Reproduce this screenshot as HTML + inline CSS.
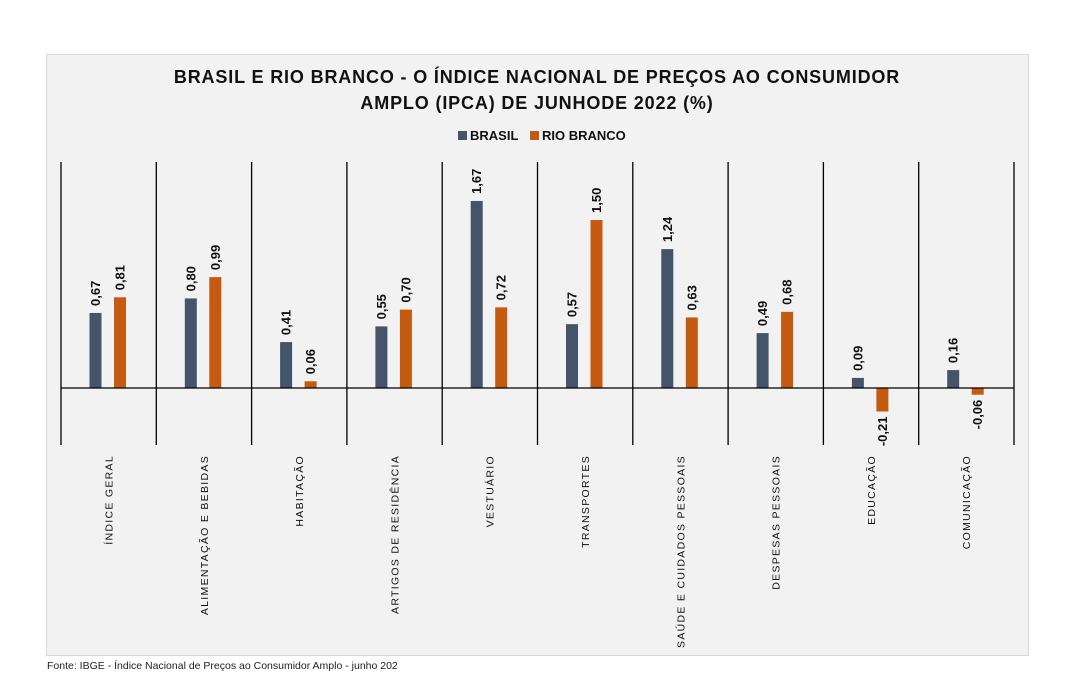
<!DOCTYPE html>
<html><head><meta charset="utf-8"><style>
html,body{margin:0;padding:0;background:#fff;}
svg{display:block;font-family:"Liberation Sans",sans-serif;}
</style></head><body>
<svg width="1080" height="700" viewBox="0 0 1080 700" xmlns="http://www.w3.org/2000/svg">
<rect x="46.5" y="54.5" width="982" height="601" fill="#f2f2f2" stroke="#d9d9d9"/>
<text x="537" y="83" text-anchor="middle" font-size="18" font-weight="bold" letter-spacing="0.85" fill="#111">BRASIL E RIO BRANCO - O ÍNDICE NACIONAL DE PREÇOS AO CONSUMIDOR</text>
<text x="537" y="109" text-anchor="middle" font-size="18" font-weight="bold" letter-spacing="0.85" fill="#111">AMPLO (IPCA) DE JUNHODE 2022 (%)</text>
<rect x="458" y="131" width="9" height="9" fill="#44546a"/>
<text x="470" y="140" font-size="13" font-weight="bold" fill="#111">BRASIL</text>
<rect x="530" y="131" width="9" height="9" fill="#c55a11"/>
<text x="542" y="140" font-size="13" font-weight="bold" fill="#111">RIO BRANCO</text>
<g stroke="#000" stroke-width="1.3">
<line x1="61" y1="162" x2="61" y2="445"/><line x1="156.3" y1="162" x2="156.3" y2="445"/><line x1="251.6" y1="162" x2="251.6" y2="445"/><line x1="346.9" y1="162" x2="346.9" y2="445"/><line x1="442.2" y1="162" x2="442.2" y2="445"/><line x1="537.5" y1="162" x2="537.5" y2="445"/><line x1="632.8" y1="162" x2="632.8" y2="445"/><line x1="728.1" y1="162" x2="728.1" y2="445"/><line x1="823.4" y1="162" x2="823.4" y2="445"/><line x1="918.7" y1="162" x2="918.7" y2="445"/><line x1="1014" y1="162" x2="1014" y2="445"/>
</g>
<g id="bars"></g>
<line x1="61" y1="388" x2="1014" y2="388" stroke="#000" stroke-width="1.3"/>
<g font-size="13" font-weight="bold" fill="#111" id="vals"></g>
<g font-size="10.5" letter-spacing="1.3" fill="#111" id="cats"></g>
<text x="47" y="669" font-size="10.5" fill="#222">Fonte: IBGE - Índice Nacional de Preços ao Consumidor Amplo - junho 202</text>
<script>
var ns="http://www.w3.org/2000/svg";
var cats=["ÍNDICE GERAL","ALIMENTAÇÃO E BEBIDAS","HABITAÇÃO","ARTIGOS DE RESIDÊNCIA","VESTUÁRIO","TRANSPORTES","SAÚDE E CUIDADOS PESSOAIS","DESPESAS PESSOAIS","EDUCAÇÃO","COMUNICAÇÃO"];
var br=[0.67,0.80,0.41,0.55,1.67,0.57,1.24,0.49,0.09,0.16];
var rb=[0.81,0.99,0.06,0.70,0.72,1.50,0.63,0.68,-0.21,-0.06];
var Z=388,S=112,W=95.3;
function el(t,a,p,txt){var e=document.createElementNS(ns,t);for(var k in a)e.setAttribute(k,a[k]);if(txt)e.textContent=txt;document.getElementById(p).appendChild(e);}
function bar(cx,v,c){var h=Math.abs(v)*S;var y=v>=0?Z-h:Z;el("rect",{x:cx-6,y:y,width:12,height:Math.max(h,1),fill:c},"bars");
var s=v.toFixed(2).replace(".",",");
if(v>=0){el("text",{transform:"translate("+(cx+4.5)+","+(Z-h-7)+") rotate(-90)","text-anchor":"start"},"vals",s);}
else{el("text",{transform:"translate("+(cx+4.5)+","+(Z+h+5)+") rotate(-90)","text-anchor":"end"},"vals",s);}}
for(var i=0;i<10;i++){var x0=61+i*W;bar(x0+34.5,br[i],"#44546a");bar(x0+59,rb[i],"#c55a11");
el("text",{transform:"translate("+(x0+51.5)+",455) rotate(-90)","text-anchor":"end"},"cats",cats[i]);}
</script>
</svg>
</body></html>
